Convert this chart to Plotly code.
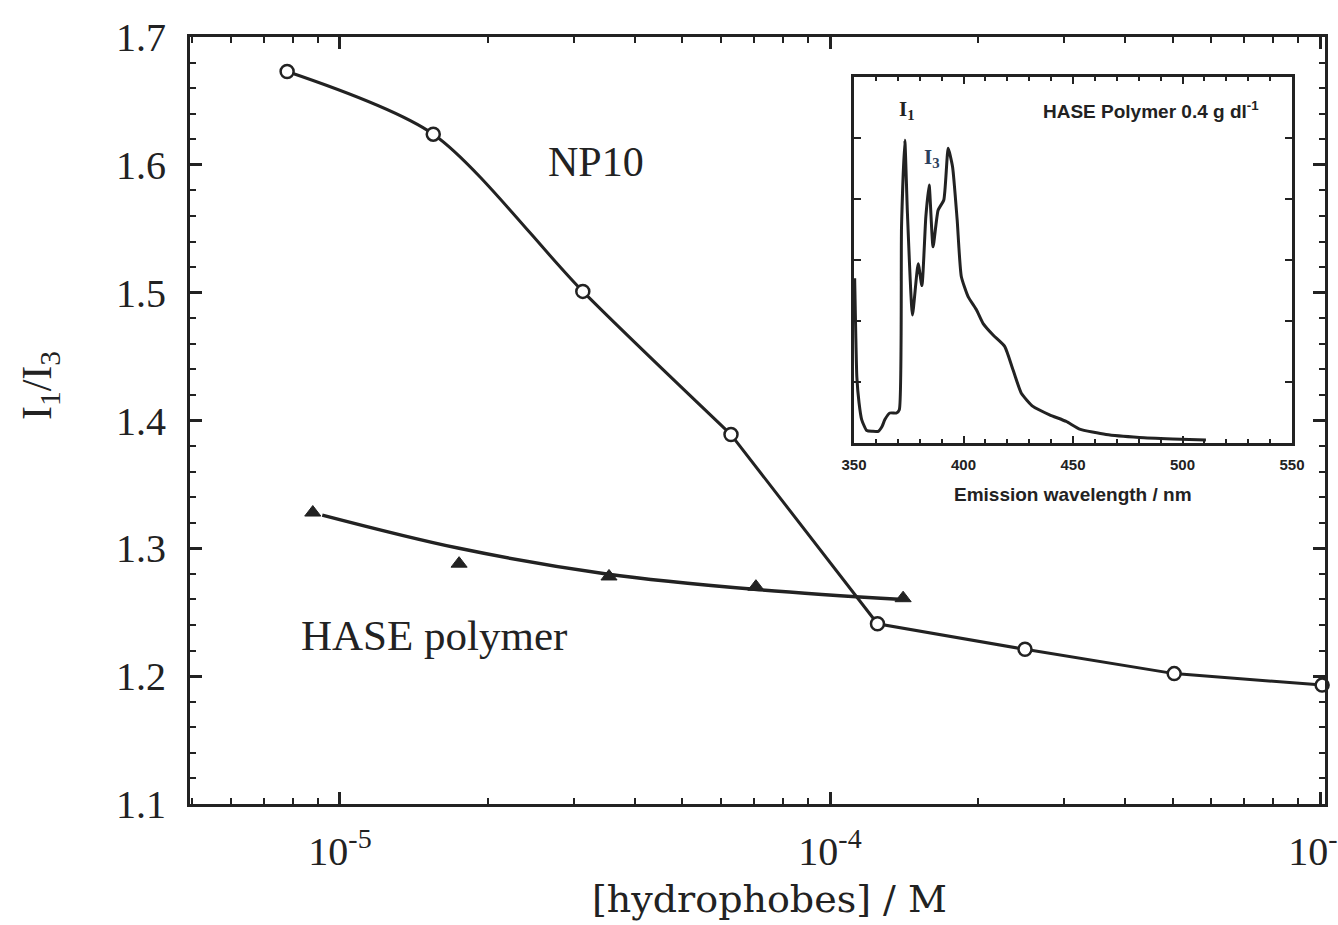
import plotly.graph_objects as go

# ---------------- data ----------------
np10_conc = [7.8e-6, 1.55e-5, 3.13e-5, 6.28e-5, 1.25e-4, 2.5e-4, 5.04e-4, 1.01e-3]
np10_ratio = [1.673, 1.624, 1.501, 1.389, 1.241, 1.221, 1.202, 1.193]

hase_conc = [8.8e-6, 1.75e-5, 3.54e-5, 7.06e-5, 1.41e-4]
hase_ratio = [1.328, 1.288, 1.278, 1.270, 1.261]

# smooth fit drawn through the HASE data
hase_fit_conc = [9.2e-6, 1.75e-5, 3.5e-5, 7.0e-5, 1.41e-4]
hase_fit_ratio = [1.326, 1.300, 1.280, 1.268, 1.260]

# inset: pyrene emission spectrum (arbitrary intensity units)
inset_wl = [350.3, 350.8, 351.3, 352.3, 353.5, 355.8, 358.5, 361.1, 362.8, 364.1, 366.4,
            369.4, 370.7, 371.7, 373.2, 374.4, 376.7, 379.3, 381.0, 382.8, 384.3, 386.1,
            388.4, 391.0, 393.0, 395.0, 397.1, 399.0, 402.1, 405.9, 408.9, 413.5, 418.8,
            422.6, 426.4, 431.7, 439.3, 446.9, 453.0, 465.1, 480.3, 495.5, 510.7]
inset_int = [0.45, 0.30, 0.18, 0.11, 0.064, 0.034, 0.032, 0.032, 0.045, 0.064, 0.082,
             0.082, 0.091, 0.59, 0.827, 0.627, 0.35, 0.49, 0.43, 0.618, 0.705, 0.536,
             0.636, 0.664, 0.805, 0.755, 0.61, 0.455, 0.40, 0.364, 0.327, 0.295, 0.264,
             0.20, 0.136, 0.10, 0.077, 0.059, 0.038, 0.023, 0.015, 0.011, 0.008]

x_tickvals = [1e-5, 1e-4, 1e-3]
x_ticktext = ["10<sup>-5</sup>", "10<sup>-4</sup>", "10<sup>-3</sup>"]
inset_tickvals = [350, 400, 450, 500, 550]

INK = "#222222"
SERIF = "Liberation Serif"
WIDESERIF = "DejaVu Serif"
SANS = "Liberation Sans"

# plot-area geometry in pixels (for placing free text)
L, R, T, B = 190, 1325, 37, 804
W, H = R - L, B - T


def px(x):
    return (x - L) / W


def py(y):
    return (B - y) / H


fig = go.Figure()

# NP10: curved part through the first four points, straight segments afterwards
fig.add_trace(go.Scatter(x=np10_conc[:4], y=np10_ratio[:4], mode="lines",
                         line=dict(color=INK, width=3, shape="spline", smoothing=0.8),
                         showlegend=False, hoverinfo="skip"))
fig.add_trace(go.Scatter(x=np10_conc[3:], y=np10_ratio[3:], mode="lines",
                         line=dict(color=INK, width=3),
                         showlegend=False, hoverinfo="skip"))
# HASE fit curve
fig.add_trace(go.Scatter(x=hase_fit_conc, y=hase_fit_ratio, mode="lines",
                         line=dict(color=INK, width=3.5, shape="spline", smoothing=1.0),
                         showlegend=False, hoverinfo="skip"))
# markers
fig.add_trace(go.Scatter(x=np10_conc, y=np10_ratio, mode="markers", name="NP10",
                         marker=dict(symbol="circle", size=13, color="white",
                                     line=dict(color=INK, width=2.5)),
                         showlegend=False, cliponaxis=False))
fig.add_trace(go.Scatter(x=hase_conc, y=hase_ratio, mode="markers", name="HASE polymer",
                         marker=dict(symbol="triangle-up", size=14, color=INK,
                                     line=dict(color=INK, width=1)),
                         showlegend=False, cliponaxis=False))

# inset spectrum
fig.add_trace(go.Scatter(x=inset_wl, y=inset_int, xaxis="x2", yaxis="y2", mode="lines",
                         line=dict(color=INK, width=3, shape="spline", smoothing=0.5),
                         showlegend=False, hoverinfo="skip"))

fig.update_layout(
    width=1338, height=925,
    margin=dict(l=L, r=1338 - R, t=T, b=925 - B, autoexpand=False),
    paper_bgcolor="white", plot_bgcolor="white",
    font=dict(family=SERIF, color=INK),
    xaxis=dict(
        type="log",
        range=[-5.3061, -2.9898],
        domain=[0, 1], automargin=False,
        showline=True, linecolor=INK, linewidth=3, mirror="allticks",
        ticks="inside", ticklen=12, tickwidth=2.5, tickcolor=INK,
        tickvals=x_tickvals, ticktext=x_ticktext,
        ticklabeloverflow="allow", ticklabelstandoff=10,
        tickfont=dict(family=SERIF, size=40, color=INK),
        minor=dict(ticks="inside", ticklen=6, tickwidth=2, tickcolor=INK, dtick="D1", showgrid=False),
        showgrid=False, zeroline=False,
    ),
    yaxis=dict(
        range=[1.1, 1.7],
        domain=[0, 1], automargin=False,
        showline=True, linecolor=INK, linewidth=3, mirror="allticks",
        ticks="inside", ticklen=12, tickwidth=2.5, tickcolor=INK,
        dtick=0.1, tick0=1.1, tickformat=".1f",
        ticklabelstandoff=13,
        tickfont=dict(family=SERIF, size=40, color=INK),
        minor=dict(ticks="inside", ticklen=6, tickwidth=2, tickcolor=INK, dtick=0.02, showgrid=False),
        showgrid=False, zeroline=False,
    ),
    xaxis2=dict(
        domain=[px(854), px(1292)], anchor="y2", automargin=False,
        range=[350, 550],
        showline=True, linecolor=INK, linewidth=2.5, mirror="allticks",
        ticks="inside", ticklen=7, tickwidth=2, tickcolor=INK,
        tickvals=inset_tickvals, ticklabelstandoff=6,
        tickfont=dict(family=SANS, size=15, color=INK, weight="bold"),
        minor=dict(ticks="inside", ticklen=4, tickwidth=1.5, tickcolor=INK, dtick=10, showgrid=False),
        showgrid=False, zeroline=False,
    ),
    yaxis2=dict(
        domain=[py(443), py(77)], anchor="x2", automargin=False,
        range=[0, 1],
        showline=True, linecolor=INK, linewidth=2.5, mirror="allticks",
        ticks="inside", ticklen=7, tickwidth=2, tickcolor=INK,
        dtick=1/6, tick0=0, showticklabels=False,
        showgrid=False, zeroline=False,
    ),
    annotations=[
        dict(text="NP10", xref="paper", yref="paper", xanchor="center", yanchor="middle",
             x=px(596), y=py(162), showarrow=False,
             font=dict(family=SERIF, size=42, color=INK)),
        dict(text="HASE polymer", xref="paper", yref="paper", xanchor="center", yanchor="middle",
             x=px(434), y=py(635), showarrow=False,
             font=dict(family=SERIF, size=43, color=INK)),
        dict(text="[hydrophobes] / M", xref="paper", yref="paper", xanchor="center", yanchor="middle",
             x=px(769), y=py(899), showarrow=False,
             font=dict(family=WIDESERIF, size=38, color=INK)),
        dict(text="I<sub>1</sub>/I<sub>3</sub>", xref="paper", yref="paper", textangle=-90,
             xanchor="center", yanchor="middle",
             x=px(40), y=py(386), showarrow=False,
             font=dict(family=SERIF, size=42, color=INK)),
        dict(text="HASE Polymer 0.4 g dl<sup>-1</sup>", xref="paper", yref="paper",
             xanchor="center", yanchor="middle",
             x=px(1151), y=py(110), showarrow=False,
             font=dict(family=SANS, size=19, color=INK, weight="bold")),
        dict(text="I<sub>1</sub>", xref="paper", yref="paper", xanchor="center", yanchor="middle",
             x=px(907), y=py(110), showarrow=False,
             font=dict(family=SERIF, size=21, color=INK, weight="bold")),
        dict(text="I<sub>3</sub>", xref="paper", yref="paper", xanchor="center", yanchor="middle",
             x=px(932), y=py(158), showarrow=False,
             font=dict(family=SERIF, size=21, color="#2c3f5c", weight="bold")),
        dict(text="Emission wavelength / nm", xref="paper", yref="paper",
             xanchor="center", yanchor="middle",
             x=px(1073), y=py(494), showarrow=False,
             font=dict(family=SANS, size=19, color=INK, weight="bold")),
    ],
)

fig.write_html("out.html")
